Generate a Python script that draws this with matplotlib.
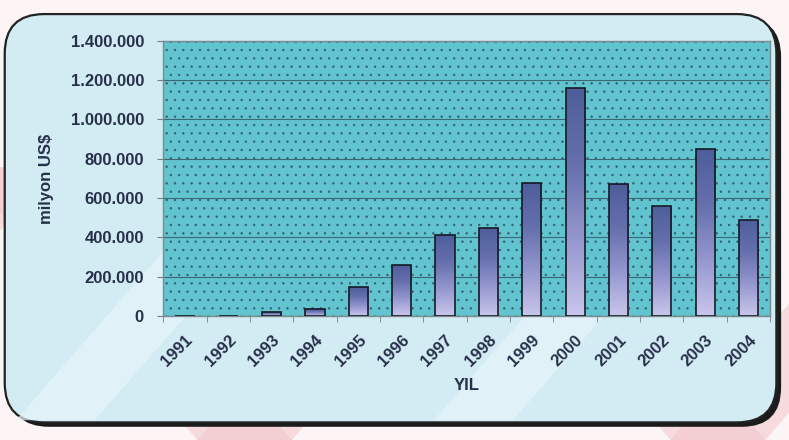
import numpy as np
import matplotlib
matplotlib.use("Agg")
import matplotlib.pyplot as plt
from matplotlib.patches import FancyBboxPatch, Rectangle, Polygon
from matplotlib.colors import LinearSegmentedColormap
from matplotlib.ticker import FuncFormatter
from matplotlib.transforms import ScaledTranslation

# Yearly values (milyon US$)
years = ["1991", "1992", "1993", "1994", "1995", "1996", "1997",
         "1998", "1999", "2000", "2001", "2002", "2003", "2004"]
values = [0, 0, 20000, 35000, 145000, 260000, 410000,
          450000, 675000, 1160000, 670000, 560000, 850000, 490000]
y_ticks = [0, 200000, 400000, 600000, 800000, 1000000, 1200000, 1400000]

TEXT = "#27304a"
plt.rcParams["font.family"] = ["Liberation Sans", "DejaVu Sans"]
plt.rcParams["hatch.linewidth"] = 0.5

fig = plt.figure(figsize=(7.89, 4.40), dpi=100)
fig.patch.set_facecolor("#fdf4f5")

# faint pink chevrons behind the card
bg = fig.add_axes([0, 0, 1, 1], zorder=-10)
bg.set_xlim(0, 1); bg.set_ylim(0, 1); bg.axis("off")
for x0 in (-0.35, 0.25, 0.85):
    bg.add_patch(Polygon([[x0, 0.0], [x0 + 0.12, 0.0], [x0 + 0.42, 0.62],
                          [x0 + 0.30, 0.62]], closed=True,
                         facecolor="#f2c6cc", edgecolor="none", alpha=0.55))
    bg.add_patch(Polygon([[x0 + 0.30, 0.62], [x0 + 0.42, 0.62], [x0 + 0.72, 0.0],
                          [x0 + 0.60, 0.0]], closed=True,
                         facecolor="#f2c6cc", edgecolor="none", alpha=0.55))

# rounded card with shadow
bg.add_patch(FancyBboxPatch((0.012, 0.03), 0.978, 0.93,
                            boxstyle="round,pad=0,rounding_size=0.05",
                            mutation_aspect=789 / 440,
                            facecolor="#1b1b1b", edgecolor="none"))
bg.add_patch(FancyBboxPatch((0.006, 0.04), 0.978, 0.928,
                            boxstyle="round,pad=0,rounding_size=0.05",
                            mutation_aspect=789 / 440,
                            facecolor="#d3ebf3", edgecolor="#222222", lw=1.6))
# light diagonal bands across the card
for x0 in (0.02, 0.55):
    bg.add_patch(Polygon([[x0, 0.045], [x0 + 0.10, 0.045], [x0 + 0.38, 0.62],
                          [x0 + 0.28, 0.62]], closed=True,
                         facecolor="#e6f5fb", edgecolor="none", alpha=0.7))

ax = fig.add_axes([0.207, 0.282, 0.769, 0.625])
ax.set_facecolor("#62c4cf")
ax.add_patch(Rectangle((0, 0), 1, 1, transform=ax.transAxes, facecolor="none",
                       edgecolor="#33607a", hatch="..", lw=0, zorder=0.5))

x = np.arange(len(years))
width = 0.44
cmap = LinearSegmentedColormap.from_list(
    "bar", ["#4d5e9b", "#6570ad", "#9597cf", "#c9c6ec"])
grad = np.linspace(0, 1, 256).reshape(-1, 1)

bars = ax.bar(x, values, width=width, facecolor="none",
              edgecolor="#151a25", lw=1.2, zorder=3)
for b in bars:
    h = b.get_height()
    if h <= 0:
        continue
    x0 = b.get_x()
    im = ax.imshow(grad, cmap=cmap, aspect="auto", origin="upper",
                   extent=(x0, x0 + b.get_width(), 0, h), zorder=2.5)
    im.set_clip_path(b)

ax.set_xlim(-0.5, len(years) - 0.5)
ax.set_ylim(0, 1400000)
ax.set_yticks(y_ticks)
ax.yaxis.set_major_formatter(
    FuncFormatter(lambda v, p: f"{int(v):,}".replace(",", ".")))
ax.grid(axis="y", color="#3b6872", lw=0.8)
ax.set_axisbelow(True)

ax.set_xticks(x)
ax.set_xticklabels(years, rotation=45, ha="right", rotation_mode="anchor",
                   fontsize=12, fontweight="bold", color=TEXT)
shift = ScaledTranslation(-10 / 100, 0, fig.dpi_scale_trans)
for lbl in ax.get_xticklabels():
    lbl.set_transform(lbl.get_transform() + shift)
ax.set_xticks(np.arange(-0.5, len(years), 1), minor=True)
ax.tick_params(axis="x", which="major", length=0, pad=12)
ax.tick_params(axis="x", which="minor", length=4, color="#6f7f85")
ax.tick_params(axis="y", length=4, color="#6f7f85", labelsize=12,
               labelcolor=TEXT, pad=10)
for lbl in ax.get_yticklabels():
    lbl.set_fontweight("bold")

for s in ax.spines.values():
    s.set_color("#7b8b90")
    s.set_linewidth(1.0)

ax.set_xlabel("YIL", fontsize=12, fontweight="bold", color=TEXT, labelpad=6)
ax.set_ylabel("milyon US$", fontsize=12, fontweight="bold", color=TEXT,
              labelpad=12)

fig.savefig("out.png", dpi=100, facecolor=fig.get_facecolor())
